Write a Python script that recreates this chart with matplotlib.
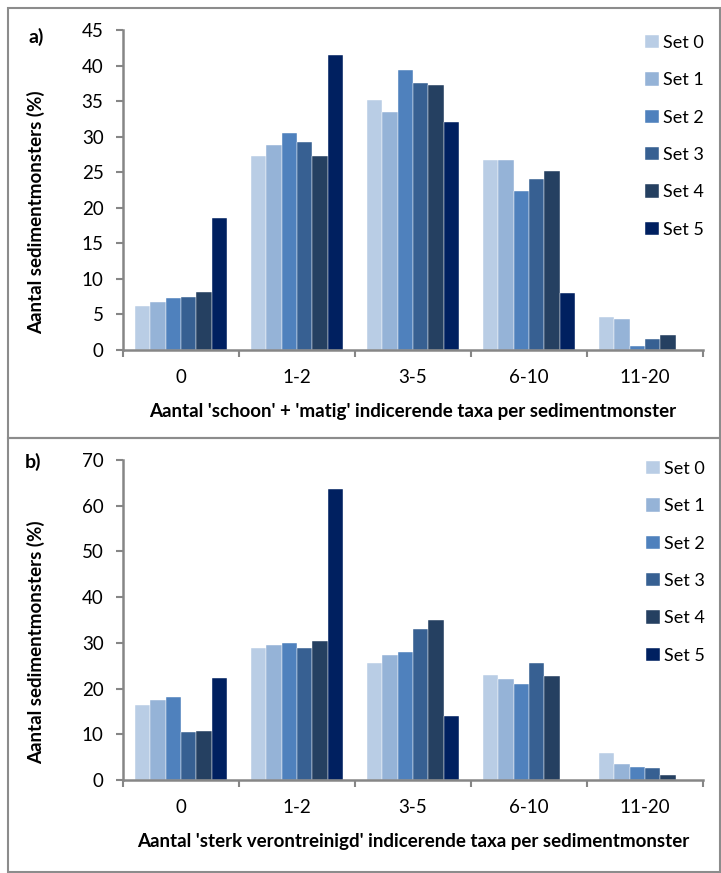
import matplotlib.pyplot as plt
from matplotlib.patches import Rectangle
import numpy as np

plt.rcParams['font.family'] = ['Lato', 'DejaVu Sans']

categories = ['0', '1-2', '3-5', '6-10', '11-20']
set_names = ['Set 0', 'Set 1', 'Set 2', 'Set 3', 'Set 4', 'Set 5']
set_colors = ['#B9CDE5', '#95B3D7', '#4F81BD', '#376092', '#254061', '#002060']

# panel a) 'schoon' + 'matig'
schoon_set0 = [6.2, 27.3, 35.2, 26.7, 4.6]
schoon_set1 = [6.7, 28.8, 33.5, 26.7, 4.4]
schoon_set2 = [7.3, 30.5, 39.4, 22.4, 0.6]
schoon_set3 = [7.5, 29.2, 37.5, 24.1, 1.6]
schoon_set4 = [8.2, 27.3, 37.3, 25.2, 2.1]
schoon_set5 = [18.6, 41.5, 32.0, 8.0, 0.0]

# panel b) 'sterk verontreinigd'
sterk_set0 = [16.4, 28.9, 25.7, 23.0, 5.8]
sterk_set1 = [17.4, 29.6, 27.3, 22.0, 3.5]
sterk_set2 = [18.1, 30.0, 28.0, 21.0, 2.8]
sterk_set3 = [10.5, 28.9, 33.0, 25.7, 2.6]
sterk_set4 = [10.8, 30.3, 34.9, 22.7, 1.2]
sterk_set5 = [22.4, 63.6, 14.1, 0.0, 0.0]

W, H = 721, 873
fig = plt.figure(figsize=(W / 100, H / 100), dpi=100)

# frames round the two panels
for y0, y1 in [(8, 438), (438, 872)]:
    fig.patches.append(Rectangle((8 / W, 1 - y1 / H), (720 - 8) / W, (y1 - y0) / H,
                                 transform=fig.transFigure, fill=False,
                                 edgecolor='#8C8C8C', linewidth=1.5))

gray = '#868686'
fs = 13.5


def draw_panel(ax, series, ymax, ystep, xlabel, tag, tag_xy, leg_xy):
    x = np.arange(len(categories))
    n = len(series)
    bw = 0.8 / n
    for i, vals in enumerate(series):
        ax.bar(x - 0.4 + bw * (i + 0.5), vals, width=bw, color=set_colors[i],
               edgecolor='white', linewidth=0.3, label=set_names[i])
    ax.set_xlim(-0.5, len(categories) - 0.5)
    ax.set_ylim(0, ymax)
    ax.set_yticks(np.arange(0, ymax + 1, ystep))
    ax.set_xticks(x)
    ax.set_xticklabels(categories, fontsize=fs)
    ax.set_xticks(np.arange(-0.5, len(categories)), minor=True)
    ax.tick_params(axis='x', which='major', length=0, pad=14)
    ax.tick_params(axis='x', which='minor', length=5, width=1.5, color=gray, direction='out')
    ax.tick_params(axis='y', length=5, width=1.5, color=gray, labelsize=fs, pad=9)
    for side in ['top', 'right']:
        ax.spines[side].set_visible(False)
    for side in ['left', 'bottom']:
        ax.spines[side].set_color(gray)
        ax.spines[side].set_linewidth(1.8)
    ax.set_xlabel(xlabel, fontsize=fs, fontweight='bold', labelpad=12)
    ax.set_ylabel('Aantal sedimentmonsters (%)', fontsize=fs, fontweight='bold')
    ax.yaxis.set_label_coords(-0.135, 0.43)
    fig.text(tag_xy[0] / W, 1 - tag_xy[1] / H, tag, fontsize=14, fontweight='bold',
             ha='center', va='center')
    ax.legend(loc='upper left', bbox_to_anchor=(leg_xy[0] / W, 1 - leg_xy[1] / H),
              bbox_transform=fig.transFigure, frameon=False, fontsize=13,
              handlelength=0.75, handleheight=0.75, handletextpad=0.25,
              labelspacing=1.18, borderpad=0, borderaxespad=0)


ax1 = fig.add_axes([123 / W, 1 - 350 / H, 580 / W, 320 / H])
draw_panel(ax1, [schoon_set0, schoon_set1, schoon_set2, schoon_set3, schoon_set4, schoon_set5],
           45, 5, "Aantal 'schoon' + 'matig' indicerende taxa per sedimentmonster",
           'a)', (36, 37), (645, 35))

ax2 = fig.add_axes([123 / W, 1 - 780 / H, 580 / W, 320 / H])
draw_panel(ax2, [sterk_set0, sterk_set1, sterk_set2, sterk_set3, sterk_set4, sterk_set5],
           70, 10, "Aantal 'sterk verontreinigd' indicerende taxa per sedimentmonster",
           'b)', (33, 462), (646, 461))

fig.savefig('out.png', dpi=100)
